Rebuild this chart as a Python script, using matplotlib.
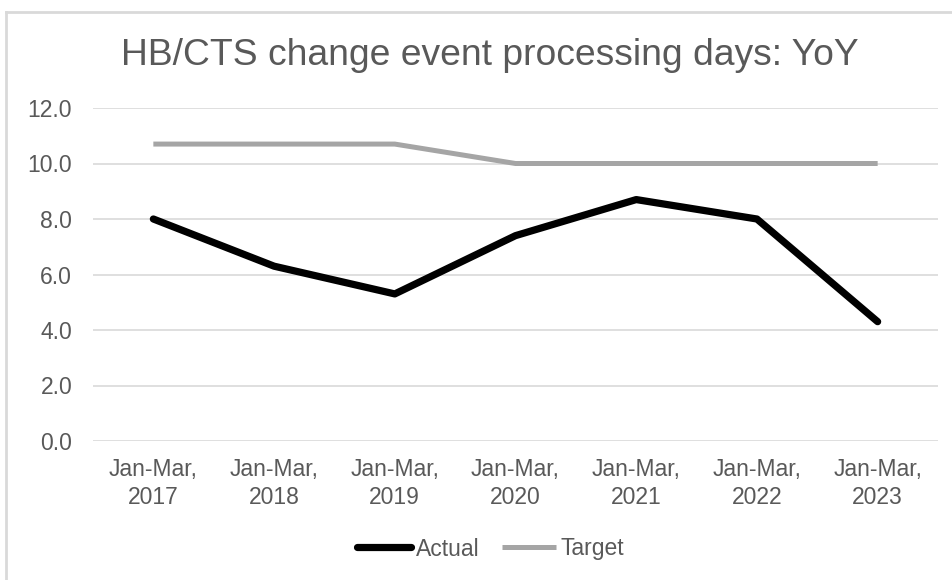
import matplotlib.pyplot as plt
from matplotlib.lines import Line2D

plt.rcParams["font.family"] = ["Liberation Sans", "DejaVu Sans"]

periodes = ["Jan-Mar,\n2017", "Jan-Mar,\n2018", "Jan-Mar,\n2019", "Jan-Mar,\n2020",
            "Jan-Mar,\n2021", "Jan-Mar,\n2022", "Jan-Mar,\n2023"]
actual = [8.0, 6.3, 5.3, 7.4, 8.7, 8.0, 4.3]
target = [10.7, 10.7, 10.7, 10.0, 10.0, 10.0, 10.0]
yticks = [0, 2, 4, 6, 8, 10, 12]

gris_texte = "#595959"
gris_grille = "#d9d9d9"

fig = plt.figure(figsize=(9.53, 5.80), dpi=100)
ax = fig.add_axes([93 / 953, 1 - 441 / 580, 845 / 953, 333 / 580])

x = range(len(periodes))
ax.plot(x, actual, color="black", lw=5.2, solid_capstyle="round",
        solid_joinstyle="round", label="Actual", zorder=3)
ax.plot(x, target, color="#a5a5a5", lw=3.6, solid_capstyle="butt",
        label="Target", zorder=2)

ax.set_xlim(-0.5, len(periodes) - 0.5)
ax.set_ylim(0, 12)
ax.set_yticks(yticks)
ax.set_yticklabels([f"{v:.1f}" for v in yticks])
ax.set_xticks(list(x))
ax.set_xticklabels(periodes, linespacing=1.3)
ax.tick_params(axis="both", length=0, labelsize=16.5, labelcolor=gris_texte)
ax.tick_params(axis="y", pad=15)
ax.tick_params(axis="x", pad=12)
ax.grid(axis="y", color=gris_grille, lw=1.2)
ax.set_axisbelow(True)
for s in ax.spines.values():
    s.set_visible(False)

fig.text(490 / 953, 1 - 65 / 580, "HB/CTS change event processing days: YoY",
         ha="center", va="baseline", fontsize=26.8, color=gris_texte)

leg = fig.legend(loc="center", bbox_to_anchor=(491 / 953, 1 - 549 / 580), ncol=2,
                 frameon=False, fontsize=16.5, handlelength=2.35,
                 handletextpad=0.2, columnspacing=1.0)
for t in leg.get_texts():
    t.set_color(gris_texte)

# cadre du graphique (bords gauche et haut visibles)
fig.add_artist(Line2D([6 / 953, 6 / 953], [0, 1 - 12 / 580], color=gris_grille, lw=2,
                      transform=fig.transFigure))
fig.add_artist(Line2D([6 / 953, 1], [1 - 12 / 580, 1 - 12 / 580], color=gris_grille, lw=2,
                      transform=fig.transFigure))

fig.savefig("out.png", dpi=100)
